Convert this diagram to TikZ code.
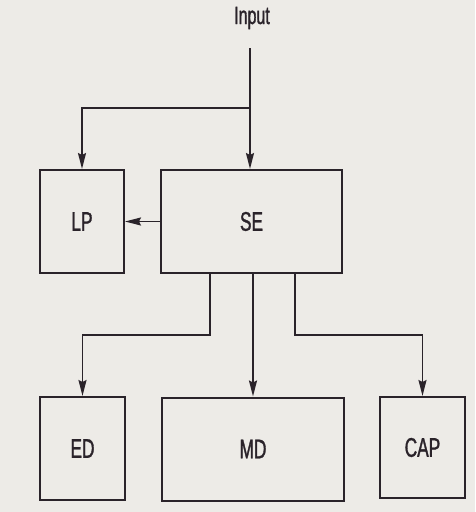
\documentclass[tikz,border=0pt]{standalone}
\usepackage{fontspec}
\newfontfamily\condfont[FakeStretch=0.64,FakeBold=1.2]{Liberation Sans}
\usetikzlibrary{arrows.meta}
\definecolor{paper}{HTML}{EDEBE7}
\definecolor{ink}{HTML}{2A232A}
\tikzset{
  box/.style={draw=ink, line width=2pt, fill=paper, minimum height=103pt, inner sep=0pt,
    font=\condfont\fontsize{27}{29}\selectfont, text=ink},
  arr/.style={draw=ink, line width=1.8pt, -{Stealth[length=16pt,width=8pt,inset=2pt]}},
  wire/.style={draw=ink, line width=1.8pt}
}
\begin{document}
\begin{tikzpicture}[x=1pt,y=-1pt]
\fill[paper] (0,0) rectangle (475,512);
\useasboundingbox (0,0) rectangle (475,512);
\node[font=\condfont\fontsize{25}{27}\selectfont, text=ink] (input) at (252,18) {Input};
\node[box, minimum width=84pt] (LP) at (82,221.5) {LP};
\node[box, minimum width=181pt] (SE) at (251.5,221.5) {SE};
\node[box, minimum width=85pt] (ED) at (82.5,448.5) {\raisebox{-6pt}{ED}};
\node[box, minimum width=182pt] (MD) at (253,449) {\raisebox{-6pt}{MD}};
\node[box, minimum width=85pt, minimum height=101pt] (CAP) at (422.5,447.5) {\raisebox{-5pt}{CAP}};
\coordinate (in0) at (250,48);
\coordinate (t1) at (250,108);
\coordinate (b1) at (210,335);
\coordinate (b3) at (295,335);
\draw[arr] (in0) -- (SE.north -| in0);
\draw[arr] (t1) -| (LP.north);
\draw[arr] (SE.west) -- (LP.east);
\draw[arr] (SE.south -| b1) -- (b1) -| (ED.north);
\draw[arr] (SE.south -| MD.north) -- (MD.north);
\draw[arr] (SE.south -| b3) -- (b3) -| (CAP.north);
\end{tikzpicture}
\end{document}
